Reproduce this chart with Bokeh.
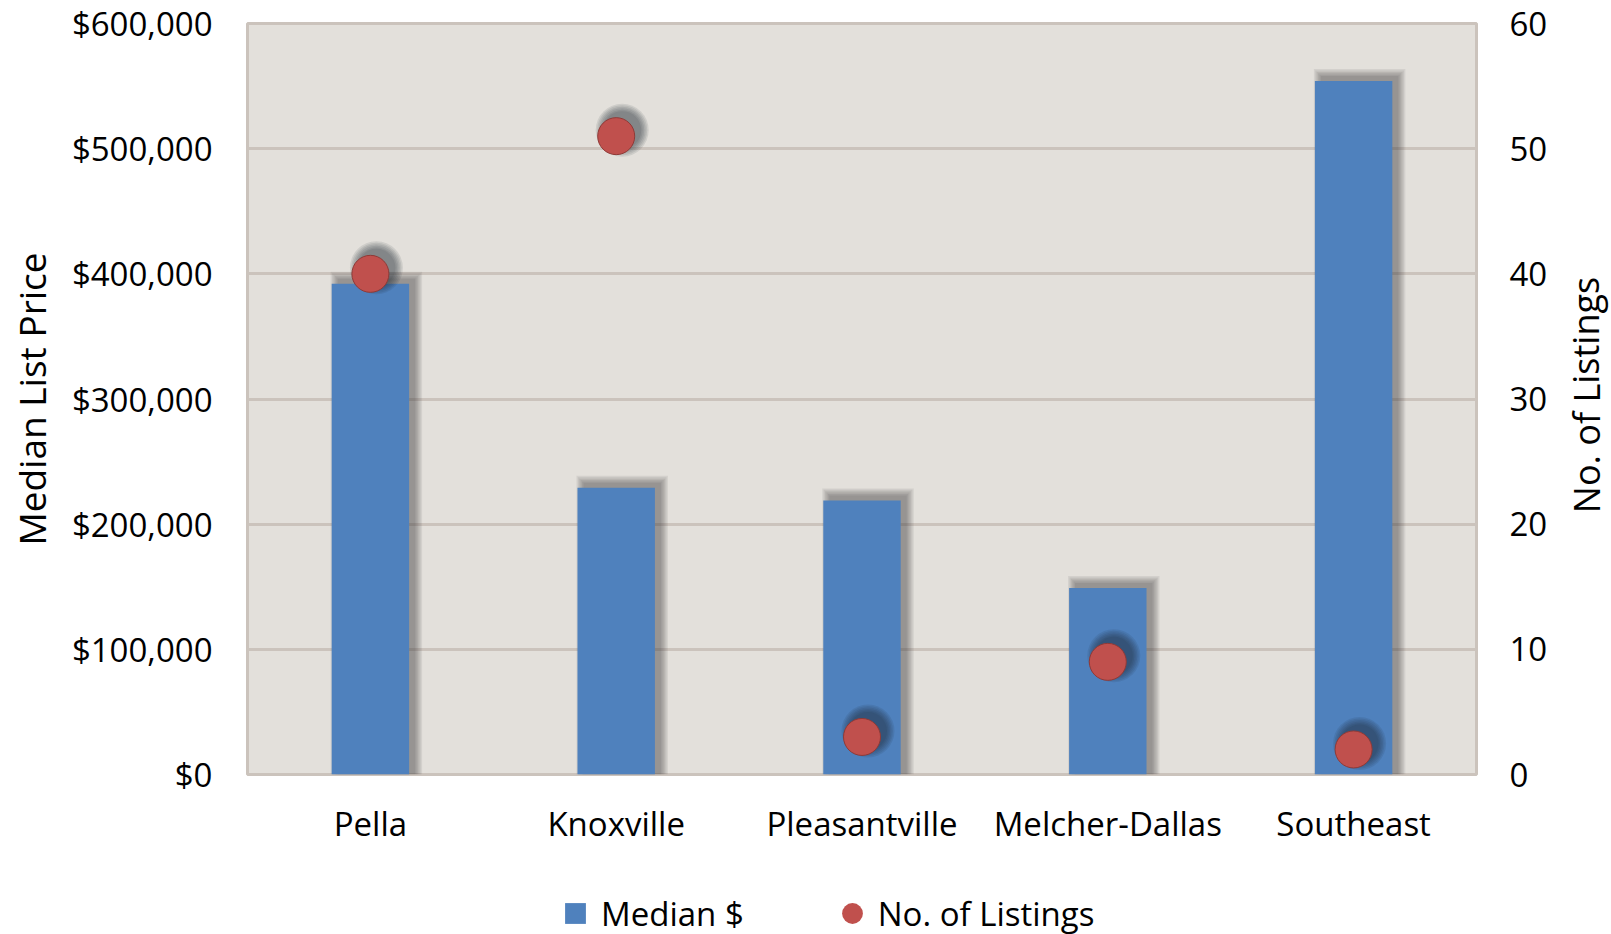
from bokeh.plotting import figure
from bokeh.layouts import row, column
from bokeh.models import (Range1d, LinearAxis, Legend, LegendItem, FixedTicker,
                          NumeralTickFormatter, FactorRange, ColumnDataSource)
from bokeh.core.properties import value
from bokeh.transform import dodge
from bokeh.embed import file_html
from bokeh.resources import INLINE

# ---- data ----
areas = ["Pella", "Knoxville", "Pleasantville", "Melcher-Dallas", "Southeast"]
median_price = [392000, 229000, 219000, 149000, 554000]
listings = [40, 51, 3, 9, 2]
price_ticks = [0, 100000, 200000, 300000, 400000, 500000, 600000]
listing_ticks = [0, 10, 20, 30, 40, 50, 60]

# ---- layout constants ----
PAGE_W, PAGE_H = 1611, 934
B_LEFT, B_RIGHT, B_TOP, B_BOTTOM = 247, 68, 23, 97
FRAME_W, FRAME_H = 1229, 751
MAIN_W = B_LEFT + FRAME_W + B_RIGHT
MAIN_H = B_TOP + FRAME_H + B_BOTTOM
SIDE_W = PAGE_W - MAIN_W
LEG_H = PAGE_H - MAIN_H

PRICE_MAX, LIST_MAX = 600000, 60
X_PER_PX = len(areas) / FRAME_W
PRICE_PER_PX = PRICE_MAX / FRAME_H
LIST_PER_PX = LIST_MAX / FRAME_H

BAR_W = 0.315
BAR_COLOR = "#4F81BD"
DOT_COLOR = "#C0504D"
BG = "#E3E0DB"
GRID = "#CBC3BC"
FONT = "Open Sans"

p = figure(frame_width=FRAME_W, frame_height=FRAME_H,
           x_range=FactorRange(*areas), y_range=Range1d(0, PRICE_MAX),
           output_backend="svg", toolbar_location=None,
           min_border_left=B_LEFT, min_border_right=B_RIGHT,
           min_border_top=B_TOP, min_border_bottom=B_BOTTOM)
p.extra_y_ranges = {"listings": Range1d(0, LIST_MAX)}

p.background_fill_color = BG
p.border_fill_color = "white"
p.outline_line_color = GRID
p.outline_line_width = 3
p.xgrid.grid_line_color = None
p.ygrid.grid_line_color = GRID
p.ygrid.grid_line_width = 3
p.ygrid.ticker = FixedTicker(ticks=price_ticks)

# ---- soft shadows: stacked translucent layers shifted up and to the right ----
SH_DX, SH_DY = 6, 5
for i in range(6):
    grow = 7 - i * 1.4
    src = ColumnDataSource(dict(
        area=areas,
        top=[v + (SH_DY + grow) * PRICE_PER_PX for v in median_price],
    ))
    p.vbar(x=dodge("area", SH_DX * X_PER_PX, range=p.x_range), top="top",
           bottom=0, width=BAR_W + 2 * grow * X_PER_PX, source=src,
           fill_color="#3a3633", fill_alpha=0.09, line_color=None)

bar_src = ColumnDataSource(dict(area=areas, price=median_price, listings=listings))
bars = p.vbar(x="area", top="price", width=BAR_W, bottom=0, source=bar_src,
              fill_color=BAR_COLOR, line_color=None)

for i in range(6):
    grow = 8 - i * 1.5
    src = ColumnDataSource(dict(
        area=areas,
        n=[v + 6 * LIST_PER_PX for v in listings],
    ))
    p.scatter(x=dodge("area", 6 * X_PER_PX, range=p.x_range), y="n",
              y_range_name="listings", size=37 + 2 * grow, marker="circle",
              source=src, fill_color="#1c2433", fill_alpha=0.1, line_color=None)

dots = p.scatter(x="area", y="listings", y_range_name="listings", size=37,
                 marker="circle", source=bar_src, fill_color=DOT_COLOR,
                 line_color="#8f3a37", line_width=1)

# ---- axes ----
for ax in (p.xaxis[0], p.yaxis[0]):
    ax.axis_line_color = None
    ax.major_tick_line_color = None
    ax.minor_tick_line_color = None
    ax.major_label_text_font = FONT
    ax.major_label_text_font_size = "33px"
    ax.major_label_text_color = "black"

p.xaxis.major_label_standoff = 20
p.yaxis.ticker = FixedTicker(ticks=price_ticks)
p.yaxis.formatter = NumeralTickFormatter(format="$0,0")
p.yaxis.major_label_standoff = 29
p.yaxis.axis_label = "Median List Price"
p.yaxis.axis_label_text_font = FONT
p.yaxis.axis_label_text_font_size = "37px"
p.yaxis.axis_label_text_font_style = "normal"
p.yaxis.axis_label_text_color = "black"
p.yaxis.axis_label_standoff = 12

right = LinearAxis(y_range_name="listings", ticker=FixedTicker(ticks=listing_ticks))
right.axis_line_color = None
right.major_tick_line_color = None
right.minor_tick_line_color = None
right.major_label_text_font = FONT
right.major_label_text_font_size = "33px"
right.major_label_text_color = "black"
right.major_label_standoff = 27
p.add_layout(right, "right")


def blank_figure(w, h, xr, yr):
    f = figure(width=w, height=h, x_range=xr, y_range=yr,
               output_backend="svg", toolbar_location=None,
               x_axis_location=None, y_axis_location=None,
               min_border=0, outline_line_color=None)
    f.grid.grid_line_color = None
    f.background_fill_color = "white"
    f.border_fill_color = "white"
    return f


# ---- right-hand axis title, reading bottom to top ----
side = blank_figure(SIDE_W, PAGE_H, Range1d(0, SIDE_W), Range1d(PAGE_H, 0))
side.text(x=[SIDE_W / 2 + 2], y=[B_TOP + FRAME_H / 2 - 4], text=["No. of Listings"],
          angle=1.5708, text_align="center", text_baseline="middle",
          text_font=value(FONT), text_font_size="36px", text_color="black")

# ---- legend strip under the chart (its frame lines up with the chart's) ----
leg_fig = blank_figure(MAIN_W, LEG_H, Range1d(0, 1), Range1d(0, 1))
nan_src = ColumnDataSource(dict(x=[float("nan")], y=[float("nan")]))
swatch_bar = leg_fig.scatter(x="x", y="y", source=nan_src, marker="square",
                             fill_color=BAR_COLOR, line_color=None)
swatch_dot = leg_fig.scatter(x="x", y="y", source=nan_src, marker="circle",
                             fill_color=DOT_COLOR, line_color=None)
legend = Legend(items=[LegendItem(label="Median $", renderers=[swatch_bar]),
                       LegendItem(label="No. of Listings", renderers=[swatch_dot])],
                orientation="horizontal", location=(302, -5),
                label_text_font=FONT, label_text_font_size="33px",
                label_text_color="black", glyph_width=52, glyph_height=52,
                label_standoff=0, spacing=82, border_line_color=None,
                background_fill_alpha=0, padding=0, margin=0)
leg_fig.add_layout(legend)

layout = row(column(p, leg_fig), side)
open("out.html", "w").write(file_html(layout, INLINE))
